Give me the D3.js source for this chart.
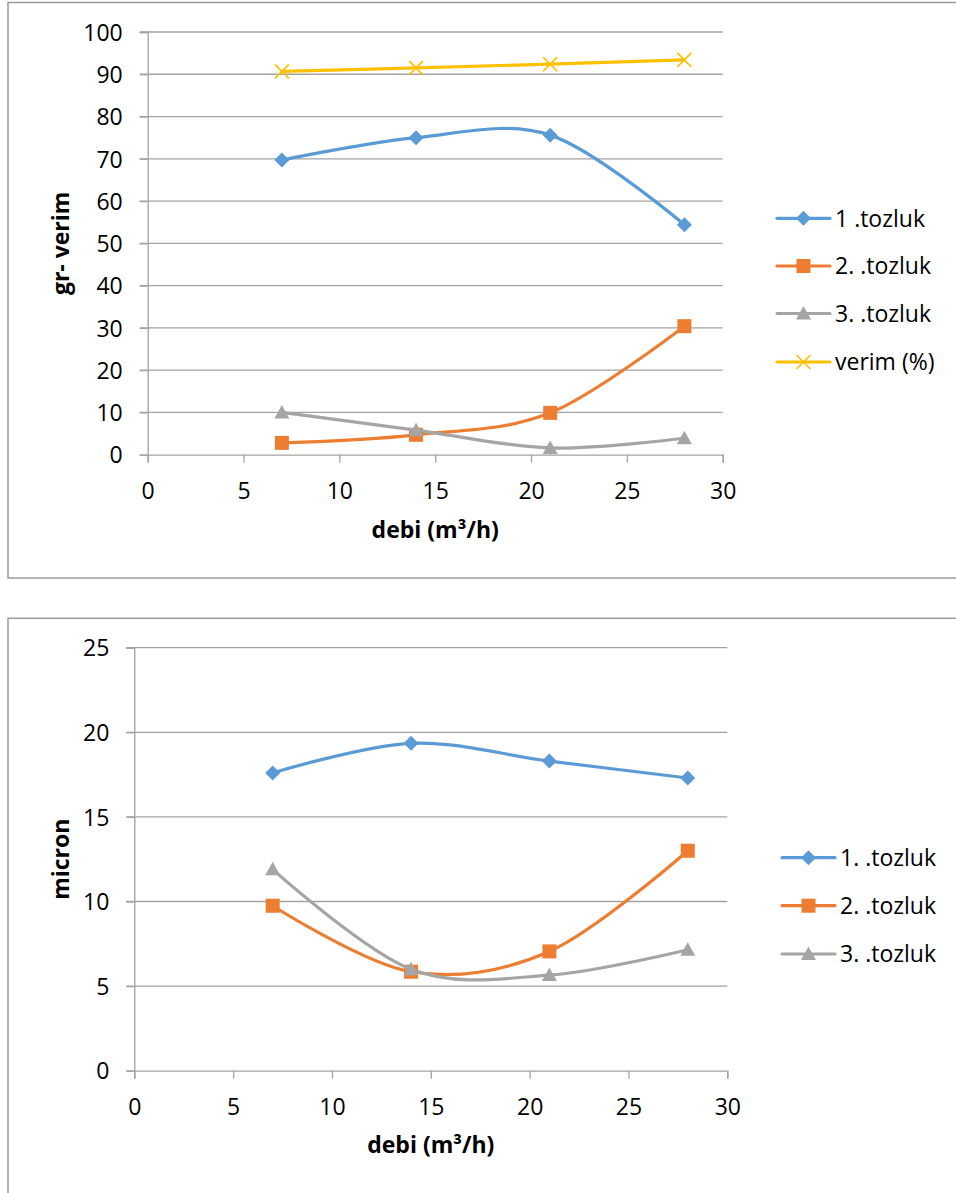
<!DOCTYPE html>
<html>
<head>
<meta charset="utf-8">
<script src="https://cdn.jsdelivr.net/npm/d3@7"></script>
<style>
  html, body { margin: 0; padding: 0; background: #fff; }
  svg { display: block; }
  text { font-family: "Open Sans", "Noto Sans", sans-serif; fill: #000; }
</style>
</head>
<body>
<svg id="chart" width="956" height="1193"></svg>
<script>
// ---------- DATA ----------
const debi = [7, 14, 21, 28];

// Top chart (gr- verim)
const topSeriesNames = ["1 .tozluk", "2. .tozluk", "3. .tozluk", "verim (%)"];
const topTozluk1 = [69.7, 75.0, 75.6, 54.4];
const topTozluk2 = [2.8, 4.7, 9.9, 30.4];
const topTozluk3 = [10.0, 5.8, 1.6, 3.9];
const topVerim   = [90.7, 91.5, 92.4, 93.4];
const topYTicks = [0, 10, 20, 30, 40, 50, 60, 70, 80, 90, 100];
const xTicks = [0, 5, 10, 15, 20, 25, 30];

// Bottom chart (micron)
const botSeriesNames = ["1. .tozluk", "2. .tozluk", "3. .tozluk"];
const botTozluk1 = [17.6, 19.35, 18.3, 17.3];
const botTozluk2 = [9.75, 5.85, 7.05, 13.0];
const botTozluk3 = [11.9, 6.0, 5.65, 7.15];
const botYTicks = [0, 5, 10, 15, 20, 25];

const xTitle = "debi (m³/h)";
const topYTitle = "gr- verim";
const botYTitle = "micron";

// ---------- STYLE ----------
const colors = ["#5B9BD5", "#ED7D31", "#A5A5A5", "#FFC000"];
const markerTypes = ["diamond", "square", "triangle", "x"];
const gridColor = "#a3a3a3";
const borderColor = "#9a9a9a";

const svg = d3.select("#chart");

function drawMarker(g, type, color, cx, cy) {
  if (type === "diamond") {
    g.append("path").attr("d", `M${cx},${cy-7.5}L${cx+7.5},${cy}L${cx},${cy+7.5}L${cx-7.5},${cy}Z`).attr("fill", color);
  } else if (type === "square") {
    g.append("rect").attr("x", cx-7).attr("y", cy-7).attr("width", 14).attr("height", 14).attr("fill", color);
  } else if (type === "triangle") {
    g.append("path").attr("d", `M${cx},${cy-7.5}L${cx+7.5},${cy+6}L${cx-7.5},${cy+6}Z`).attr("fill", color);
  } else if (type === "x") {
    g.append("path").attr("d", `M${cx-7},${cy-7}L${cx+7},${cy+7}M${cx+7},${cy-7}L${cx-7},${cy+7}`)
      .attr("stroke", color).attr("stroke-width", 1.6).attr("fill", "none");
  }
}

function drawChart(cfg) {
  const g = svg.append("g");
  // outer border (right side runs off the page)
  g.append("rect").attr("x", cfg.box[0]).attr("y", cfg.box[1])
    .attr("width", 1000).attr("height", cfg.box[2] - cfg.box[1])
    .attr("fill", "none").attr("stroke", borderColor).attr("stroke-width", 1.5);

  const x = d3.scaleLinear().domain([0, 30]).range([cfg.left, cfg.right]);
  const y = d3.scaleLinear().domain(cfg.yDomain).range([cfg.bottom, cfg.top]);

  // gridlines
  g.append("g").selectAll("line").data(cfg.yTicks.filter(v => v !== cfg.yDomain[0])).join("line")
    .attr("x1", cfg.left - 8).attr("x2", cfg.right)
    .attr("y1", d => y(d)).attr("y2", d => y(d))
    .attr("stroke", gridColor).attr("stroke-width", 1.3);

  // y axis
  const yAxis = d3.axisLeft(y).tickValues(cfg.yTicks).tickSize(8).tickPadding(17).tickFormat(d3.format("d"));
  const ya = g.append("g").attr("transform", `translate(${cfg.left},0)`).call(yAxis);
  ya.select(".domain").attr("stroke", gridColor).attr("stroke-width", 1.3);
  ya.selectAll(".tick line").attr("stroke", gridColor).attr("stroke-width", 1.3);
  ya.selectAll(".tick text").attr("font-size", 23).attr("font-family", "Open Sans").attr("fill", "#000").attr("dy", "0.36em");

  // x axis
  const xAxis = d3.axisBottom(x).tickValues(xTicks).tickSize(8).tickPadding(0).tickFormat(d3.format("d"));
  const xa = g.append("g").attr("transform", `translate(0,${cfg.bottom})`).call(xAxis);
  xa.select(".domain").attr("stroke", gridColor).attr("stroke-width", 1.3);
  xa.selectAll(".tick line").attr("stroke", gridColor).attr("stroke-width", 1.3);
  xa.selectAll(".tick text").attr("font-size", 23).attr("font-family", "Open Sans").attr("fill", "#000")
    .attr("y", 44).attr("dy", 0);

  // axis titles
  g.append("text").attr("x", (cfg.left + cfg.right) / 2).attr("y", cfg.bottom + cfg.xTitleOffset)
    .attr("text-anchor", "middle").attr("font-weight", "bold").attr("font-size", 23).text(xTitle);
  g.append("text").attr("transform", `translate(${cfg.yTitleX},${(cfg.top + cfg.bottom) / 2}) rotate(-90)`)
    .attr("text-anchor", "middle").attr("font-weight", "bold").attr("font-size", 23).text(cfg.yTitle);

  // series
  const line = d3.line().x(d => x(d[0])).y(d => y(d[1])).curve(d3.curveCardinal.tension(0));
  cfg.series.forEach((vals, i) => {
    const pts = debi.map((d, j) => [d, vals[j]]);
    const sg = g.append("g");
    sg.append("path").attr("d", line(pts)).attr("fill", "none")
      .attr("stroke", colors[i]).attr("stroke-width", 3.2).attr("stroke-linejoin", "round").attr("stroke-linecap", "round");
    pts.forEach(p => drawMarker(sg, markerTypes[i], colors[i], x(p[0]), y(p[1])));
  });

  // legend
  cfg.names.forEach((name, i) => {
    const ly = cfg.legendY[i];
    const lg = g.append("g");
    lg.append("line").attr("x1", cfg.legendX).attr("x2", cfg.legendX + 53).attr("y1", ly).attr("y2", ly)
      .attr("stroke", colors[i]).attr("stroke-width", 3.2).attr("stroke-linecap", "round");
    drawMarker(lg, markerTypes[i], colors[i], cfg.legendX + 26.5, ly);
    lg.append("text").attr("x", cfg.legendX + 58).attr("y", ly + 8.3).attr("font-size", 23).text(name);
  });
}

drawChart({
  box: [8, 2.5, 578],
  left: 147.7, right: 722.7, top: 32, bottom: 454.7,
  yDomain: [0, 100], yTicks: topYTicks,
  series: [topTozluk1, topTozluk2, topTozluk3, topVerim],
  names: topSeriesNames,
  yTitle: topYTitle, yTitleX: 68.5, xTitleOffset: 83.5,
  legendX: 777, legendY: [218.3, 266, 313.5, 362]
});

drawChart({
  box: [8, 618.3, 1300],
  left: 134.3, right: 727.3, top: 647.7, bottom: 1070.7,
  yDomain: [0, 25], yTicks: botYTicks,
  series: [botTozluk1, botTozluk2, botTozluk3],
  names: botSeriesNames,
  yTitle: botYTitle, yTitleX: 68.5, xTitleOffset: 82.5,
  legendX: 782, legendY: [857.7, 905.7, 954]
});
</script>
</body>
</html>
